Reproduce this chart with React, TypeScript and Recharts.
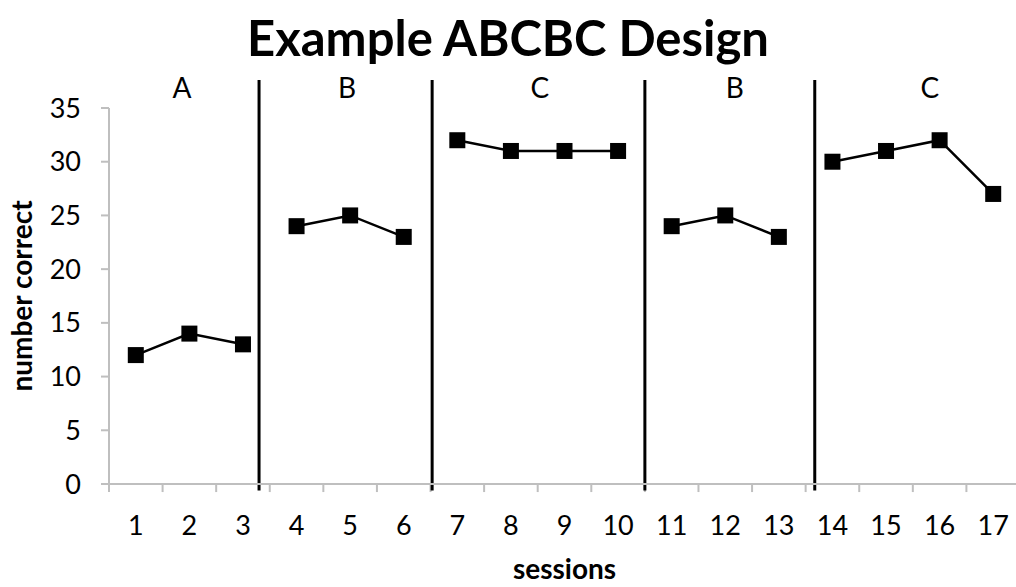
import { Line, LineChart, ReferenceDot, ReferenceLine, XAxis, YAxis } from 'recharts';

const sessionTicks = [1, 2, 3, 4, 5, 6, 7, 8, 9, 10, 11, 12, 13, 14, 15, 16, 17];
const boundaryTicks = [0.5, 1.5, 2.5, 3.5, 4.5, 5.5, 6.5, 7.5, 8.5, 9.5, 10.5, 11.5, 12.5, 13.5, 14.5, 15.5, 16.5, 17.5];
const yTicks = [0, 5, 10, 15, 20, 25, 30, 35];

// number correct per session, one array per phase
const phaseA = [12, 14, 13];
const phaseB1 = [24, 25, 23];
const phaseC1 = [32, 31, 31, 31];
const phaseB2 = [24, 25, 23];
const phaseC2 = [30, 31, 32, 27];

const phaseNames = ['A', 'B', 'C', 'B', 'C'];
const phaseCenters = [1.86, 4.94, 8.54, 12.18, 15.82];
const phaseChanges = [3.3, 6.53, 10.5, 13.67];

const phases = [phaseA, phaseB1, phaseC1, phaseB2, phaseC2];
let start = 1;
const phaseData = phases.map((vals) => {
  const rows = vals.map((v, i) => ({ session: start + i, value: v }));
  start += vals.length;
  return rows;
});

const FONT = 'Lato, "Open Sans", sans-serif';
const AXIS_GREY = '#bfbfbf';

function SquareDot(props: any) {
  const { cx, cy, key } = props;
  if (cx == null || cy == null) return null;
  return <rect key={key} x={cx - 8} y={cy - 8} width={16} height={16} fill="#000" />;
}

export default function App() {
  return (
    <div
      style={{
        position: 'absolute',
        left: 0,
        top: 0,
        width: 1016,
        height: 587,
        overflow: 'hidden',
        background: '#fff',
        fontFamily: FONT,
      }}
    >
      <div
        style={{
          position: 'absolute',
          left: 0,
          top: 7,
          width: 1016,
          textAlign: 'center',
          fontSize: 49,
          fontWeight: 700,
          lineHeight: '60px',
          color: '#000',
        }}
      >
        Example ABCBC Design
      </div>
      <LineChart
        width={1030}
        height={587}
        margin={{ top: 108, right: 10, bottom: 0, left: 0 }}
        style={{ fontFamily: FONT }}
      >
        <XAxis
          type="number"
          dataKey="session"
          domain={[0.5, 17.5]}
          ticks={sessionTicks}
          axisLine={{ stroke: AXIS_GREY, strokeWidth: 2 }}
          tickLine={false}
          tickSize={0}
          tickMargin={32}
          height={103}
          tick={{ fill: '#000', fontSize: 27 }}
          label={{
            value: 'sessions',
            position: 'insideBottom',
            offset: 8,
            fill: '#000',
            fontSize: 28,
            fontWeight: 700,
          }}
        />
        <YAxis
          type="number"
          domain={[0, 35]}
          ticks={yTicks}
          width={109}
          tickSize={8}
          tickMargin={20}
          axisLine={{ stroke: AXIS_GREY, strokeWidth: 2 }}
          tickLine={{ stroke: AXIS_GREY, strokeWidth: 2 }}
          tick={{ fill: '#000', fontSize: 27 }}
          label={{
            value: 'number correct',
            angle: -90,
            position: 'insideLeft',
            offset: 22,
            fill: '#000',
            fontSize: 28,
            fontWeight: 700,
            style: { textAnchor: 'middle' },
          }}
        />
        {/* category boundary tick marks below the x axis */}
        {boundaryTicks.map((x) => (
          <ReferenceLine
            key={`t${x}`}
            segment={[
              { x, y: 0 },
              { x, y: -0.75 },
            ]}
            stroke={AXIS_GREY}
            strokeWidth={2}
            ifOverflow="visible"
          />
        ))}
        {phaseChanges.map((x) => (
          <ReferenceLine
            key={x}
            segment={[
              { x, y: -0.6 },
              { x, y: 37.6 },
            ]}
            stroke="#000"
            strokeWidth={3}
            ifOverflow="visible"
          />
        ))}
        {phaseNames.map((name, i) => (
          <ReferenceDot
            key={i}
            x={phaseCenters[i]}
            y={36.9}
            r={0}
            ifOverflow="visible"
            label={{ value: name, position: 'center', fill: '#000', fontSize: 28 }}
          />
        ))}
        {phaseData.map((rows, i) => (
          <Line
            key={i}
            data={rows}
            dataKey="value"
            stroke="#000"
            strokeWidth={2.5}
            dot={SquareDot}
            activeDot={false}
            isAnimationActive={false}
          />
        ))}
      </LineChart>
    </div>
  );
}
